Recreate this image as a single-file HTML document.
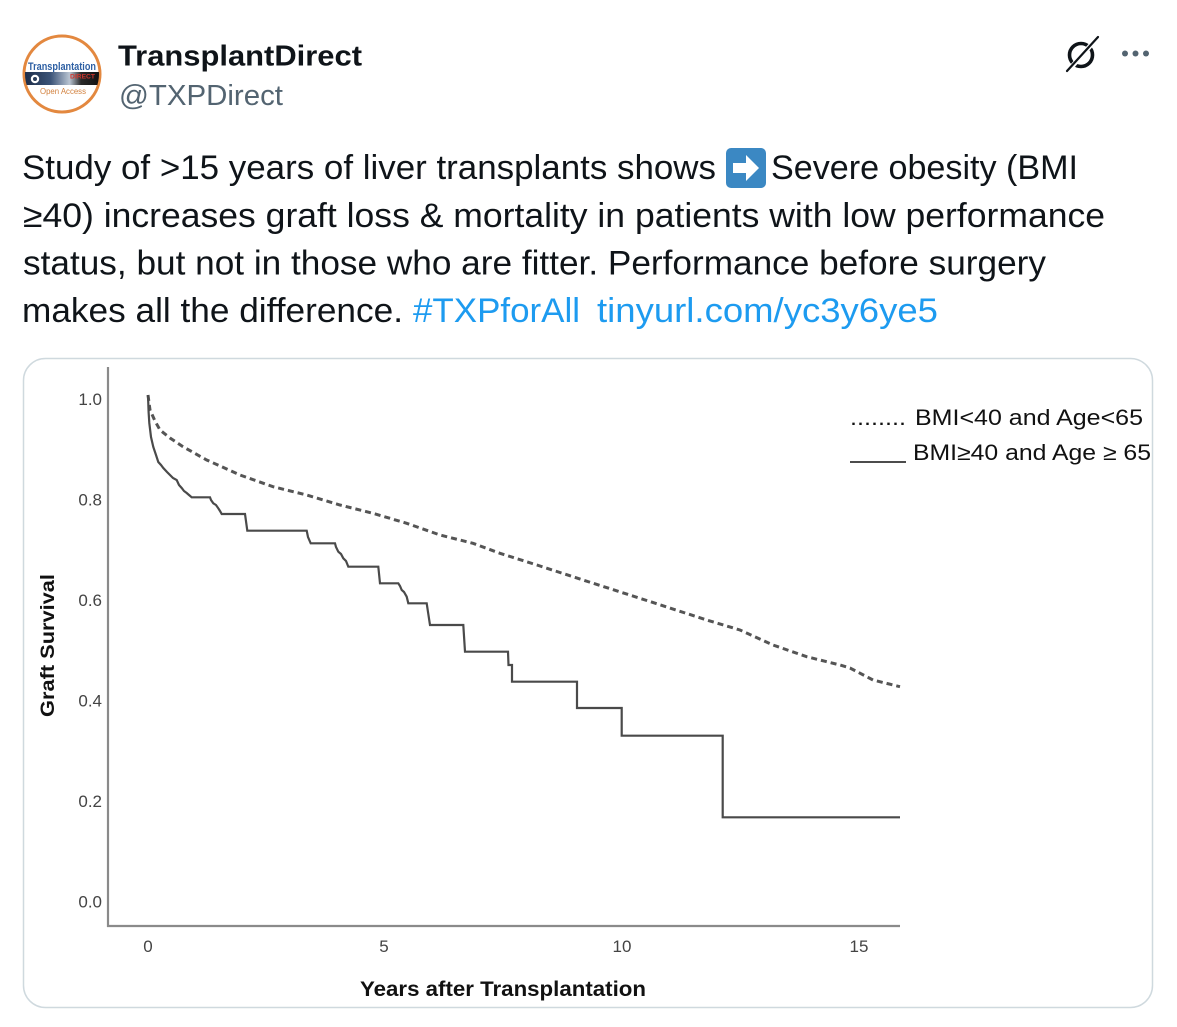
<!DOCTYPE html>
<html>
<head>
<meta charset="utf-8">
<style>
  html,body{margin:0;padding:0;background:#fff;}
  svg{display:block;}
  text{font-family:"Liberation Sans", "DejaVu Sans", sans-serif;}
</style>
</head>
<body>
<svg width="1177" height="1027" viewBox="0 0 1177 1027" xmlns="http://www.w3.org/2000/svg">
  <defs>
    <linearGradient id="bar" x1="0" x2="1" y1="0" y2="0">
      <stop offset="0" stop-color="#1b2b47"/>
      <stop offset="0.35" stop-color="#3c5478"/>
      <stop offset="0.6" stop-color="#b9c4d2"/>
      <stop offset="0.75" stop-color="#2a2a2a"/>
      <stop offset="1" stop-color="#111"/>
    </linearGradient>
    <clipPath id="avclip"><circle cx="62" cy="74" r="37"/></clipPath>
  </defs>

  <!-- Avatar -->
  <circle cx="62" cy="74" r="38" fill="#fff" stroke="#e3883f" stroke-width="3"/>
  <g clip-path="url(#avclip)">
    <text x="28" y="70" font-size="11" font-weight="bold" fill="#2d5fa3" textLength="68" lengthAdjust="spacingAndGlyphs">Transplantation</text>
    <rect x="24" y="72" width="76" height="13" fill="url(#bar)"/>
    <text x="70" y="78.5" font-size="6.5" font-weight="bold" fill="#d2352b" textLength="25" lengthAdjust="spacingAndGlyphs">DIRECT</text>
    <circle cx="35" cy="79" r="4.2" fill="#fff"/>
    <circle cx="35" cy="79" r="2" fill="#2b3d5a"/>
    <text x="40" y="94" font-size="8.5" fill="#d2813e" textLength="46" lengthAdjust="spacingAndGlyphs">Open Access</text>
  </g>

  <!-- Name / handle -->
  <text x="118" y="65.5" font-size="29" font-weight="bold" fill="#0f1419" textLength="244" lengthAdjust="spacingAndGlyphs">TransplantDirect</text>
  <text x="119" y="105" font-size="29" fill="#536471" textLength="164" lengthAdjust="spacingAndGlyphs">@TXPDirect</text>

  <!-- Top-right icons -->
  <circle cx="1081" cy="55" r="11.5" fill="none" stroke="#0f1419" stroke-width="3.6"/>
  <line x1="1068" y1="71" x2="1098" y2="37" stroke="#fff" stroke-width="5"/>
  <line x1="1067" y1="71" x2="1098" y2="37" stroke="#0f1419" stroke-width="2.2" stroke-linecap="round"/>
  <circle cx="1125" cy="53.5" r="3" fill="#536471"/>
  <circle cx="1135.5" cy="53.5" r="3" fill="#536471"/>
  <circle cx="1146" cy="53.5" r="3" fill="#536471"/>

  <!-- Tweet text -->
  <g font-size="34" fill="#0f1419">
    <text x="22" y="179" textLength="694" lengthAdjust="spacingAndGlyphs">Study of &gt;15 years of liver transplants shows</text>
    <text x="771" y="179" textLength="307" lengthAdjust="spacingAndGlyphs">Severe obesity (BMI</text>
    <text x="23" y="227" textLength="1082" lengthAdjust="spacingAndGlyphs">≥40) increases graft loss &amp; mortality in patients with low performance</text>
    <text x="23" y="274.5" textLength="1023" lengthAdjust="spacingAndGlyphs">status, but not in those who are fitter. Performance before surgery</text>
    <text x="22" y="322" textLength="381" lengthAdjust="spacingAndGlyphs">makes all the difference.</text>
    <text x="413" y="322" fill="#1d9bf0" textLength="167" lengthAdjust="spacingAndGlyphs">#TXPforAll</text>
    <text x="597" y="322" fill="#1d9bf0" textLength="341" lengthAdjust="spacingAndGlyphs">tinyurl.com/yc3y6ye5</text>
  </g>
  <!-- arrow emoji -->
  <rect x="726" y="148" width="40" height="40" rx="5" fill="#3b88c3"/>
  <path d="M733,163 L746,163 L746,155 L759,168 L746,181 L746,173 L733,173 Z" fill="#fff"/>

  <!-- Card -->
  <rect x="23.5" y="358.5" width="1129" height="649" rx="22" fill="#fff" stroke="#cfd9de" stroke-width="1.5"/>

  <!-- Axes -->
  <line x1="108" y1="367" x2="108" y2="927" stroke="#8a8a8a" stroke-width="2.2"/>
  <line x1="107" y1="926" x2="900" y2="926" stroke="#8a8a8a" stroke-width="2.2"/>

  <!-- Y tick labels -->
  <g font-size="17" fill="#444" text-anchor="end">
    <text x="102" y="405">1.0</text>
    <text x="102" y="505.5">0.8</text>
    <text x="102" y="606">0.6</text>
    <text x="102" y="706.5">0.4</text>
    <text x="102" y="807">0.2</text>
    <text x="102" y="907.5">0.0</text>
  </g>
  <!-- X tick labels -->
  <g font-size="17" fill="#444" text-anchor="middle">
    <text x="148" y="952">0</text>
    <text x="384" y="952">5</text>
    <text x="622" y="952">10</text>
    <text x="859" y="952">15</text>
  </g>

  <!-- Axis titles -->
  <text transform="translate(54,717) rotate(-90)" font-size="19" font-weight="bold" fill="#111" textLength="143" lengthAdjust="spacingAndGlyphs">Graft Survival</text>
  <text x="360" y="996" font-size="21" font-weight="bold" fill="#111" textLength="286" lengthAdjust="spacingAndGlyphs">Years after Transplantation</text>

  <!-- Dashed series -->
  <polyline fill="none" stroke="#555" stroke-width="3" stroke-dasharray="6 4"
    points="148,395 150,410 155,421 160,430 170,438 183,446.7 206.7,460 240,475 273,486.7 306.7,495 340,505 373,513.3 406.7,523.3 440,535 473,543.3 500,553.3 540,566 583,580 640,598.3 706.7,620 740,630 773,645 806.7,656.7 840,665 850,668 873,680 900,686.7"/>

  <!-- Solid series -->
  <polyline fill="none" stroke="#4a4a4a" stroke-width="2.2" stroke-linejoin="miter"
    points="148,395 148.6,412 149.3,423 151,437 153.3,447 156,455 158.3,462 161,465 163.3,468 167,472 170,475 173,478 176.7,480 179,485 181.7,488 184,491 186.7,493 189,495 191.7,497.3 210,497.3 211,500 213.3,503.3 216,505 218.3,508.3 220,511 221.7,514 245,514 247.3,530.7 306.7,530.7 308,537 310.7,543.3 335,543.3 336,547 338.3,551.7 341,554 343.3,558.3 346,561 348.3,566.7 378.3,566.7 380,583.3 398.3,583.3 400,586 401.7,590 404,592 406.7,596.7 408.3,603.3 426.7,603.3 428,612 430,625 463.3,625 465,651.7 508,651.7 508.5,665 512,665 512,681.7 577,681.7 577,708 621.7,708 621.7,735.7 722.7,735.7 722.7,817.3 900,817.3"/>

  <!-- Legend -->
  <g font-size="22" fill="#111">
    <text x="850" y="425" textLength="56" lengthAdjust="spacingAndGlyphs">........</text>
    <text x="915" y="425" textLength="228" lengthAdjust="spacingAndGlyphs">BMI&lt;40 and Age&lt;65</text>
    <line x1="850" y1="462" x2="906" y2="462" stroke="#111" stroke-width="1.6"/>
    <text x="913" y="460" textLength="238" lengthAdjust="spacingAndGlyphs">BMI≥40 and Age ≥ 65</text>
  </g>
</svg>
</body>
</html>
